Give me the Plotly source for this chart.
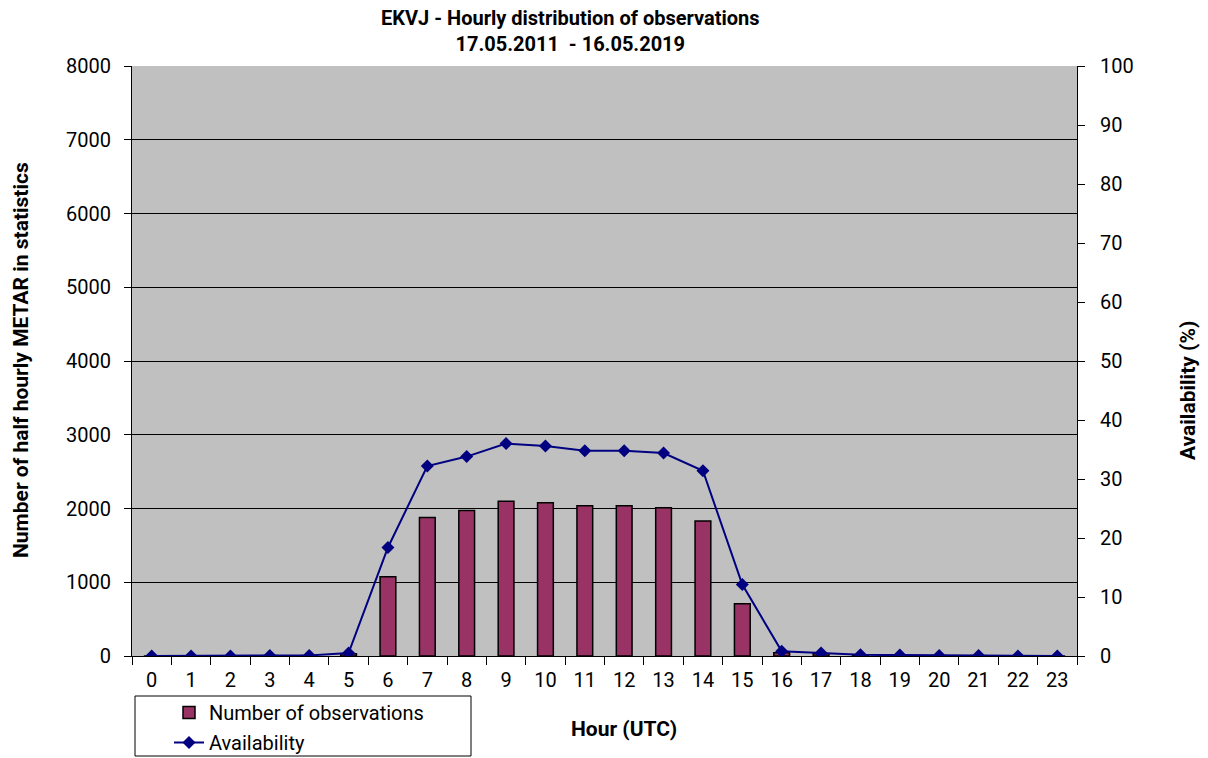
import plotly.graph_objects as go

# Hourly METAR counts and availability, EKVJ, 17.05.2011 - 16.05.2019
hours = [str(h) for h in range(24)]
observations = [0, 0, 0, 5, 5, 30, 1076, 1878, 1973, 2100, 2077, 2036,
                2036, 2009, 1832, 709, 45, 30, 10, 8, 5, 5, 0, 0]
availability = [0, 0, 0, 0.1, 0.1, 0.5, 18.4, 32.2, 33.8, 36.0, 35.6, 34.8,
                 34.8, 34.4, 31.4, 12.1, 0.8, 0.5, 0.2, 0.15, 0.1, 0.1, 0, 0]

W, H = 1208, 758
L, R, T, B = 132, 131, 66, 102
pw, ph = W - L - R, H - T - B


def px_x(x):
    return (x - L) / pw


def px_y(y):
    return (H - B - y) / ph


FONT = "Roboto"

fig = go.Figure()
fig.add_trace(go.Bar(
    x=hours, y=observations, name="Number of observations",
    marker=dict(color="#993366", line=dict(color="black", width=1.5)),
    legendgroup="a",
))
fig.add_trace(go.Scatter(
    x=hours, y=availability, name="Availability", yaxis="y2",
    mode="lines+markers",
    line=dict(color="#000080", width=2),
    marker=dict(symbol="diamond", size=10, color="#000080"),
    legendgroup="b",
))

axis_font = dict(family=FONT, size=20, color="black")
title_font = dict(family=FONT, size=21, color="black")

fig.update_layout(
    width=W, height=H,
    margin=dict(l=L, r=R, t=T, b=B, autoexpand=False),
    paper_bgcolor="white",
    plot_bgcolor="#C0C0C0",
    bargap=0.6,
    font=axis_font,
    xaxis=dict(
        type="category", tickson="boundaries", ticks="outside", ticklen=8,
        tickcolor="black", showline=True, linecolor="black", linewidth=1,
        showgrid=False, tickfont=axis_font, range=[-0.5, 23.5],
        ticklabelstandoff=6,
    ),
    yaxis=dict(
        range=[0, 8000], dtick=1000, ticks="outside", ticklen=7,
        tickcolor="black", showline=True, linecolor="black", linewidth=1,
        showgrid=True, gridcolor="black", gridwidth=1, zeroline=False,
        tickfont=axis_font, ticklabelstandoff=9,
    ),
    yaxis2=dict(
        overlaying="y", side="right", range=[0, 100], dtick=10,
        ticks="outside", ticklen=7, tickcolor="black", showline=True,
        linecolor="black", linewidth=1, showgrid=False, zeroline=False,
        tickfont=axis_font, ticklabelstandoff=11,
    ),
    showlegend=True,
    legend=dict(
        x=px_x(169), y=px_y(693), xanchor="left", yanchor="top",
        bgcolor="rgba(0,0,0,0)", font=dict(family=FONT, size=20, color="black"),
        traceorder="grouped", tracegroupgap=1,
    ),
    shapes=[dict(
        type="rect", xref="paper", yref="paper",
        x0=px_x(135), x1=px_x(471), y0=px_y(756), y1=px_y(696),
        line=dict(color="black", width=1), fillcolor="white", layer="below",
    )],
    annotations=[
        dict(text="<b>EKVJ - Hourly distribution of observations</b><br><b>17.05.2011  - 16.05.2019</b>",
             xref="paper", yref="paper", x=px_x(570), y=px_y(4),
             xanchor="center", yanchor="top", showarrow=False,
             font=dict(family=FONT, size=20, color="black")),
        dict(text="<b>Number of half hourly METAR in statistics</b>",
             xref="paper", yref="paper", x=px_x(21), y=px_y(360),
             textangle=-90, showarrow=False, xanchor="center", yanchor="middle",
             font=title_font),
        dict(text="<b>Availability (%)</b>",
             xref="paper", yref="paper", x=px_x(1188), y=px_y(391),
             textangle=-90, showarrow=False, xanchor="center", yanchor="middle",
             font=title_font),
        dict(text="<b>Hour (UTC)</b>",
             xref="paper", yref="paper", x=px_x(624), y=px_y(729),
             showarrow=False, xanchor="center", yanchor="middle",
             font=title_font),
    ],
)

fig.write_html("out.html")
